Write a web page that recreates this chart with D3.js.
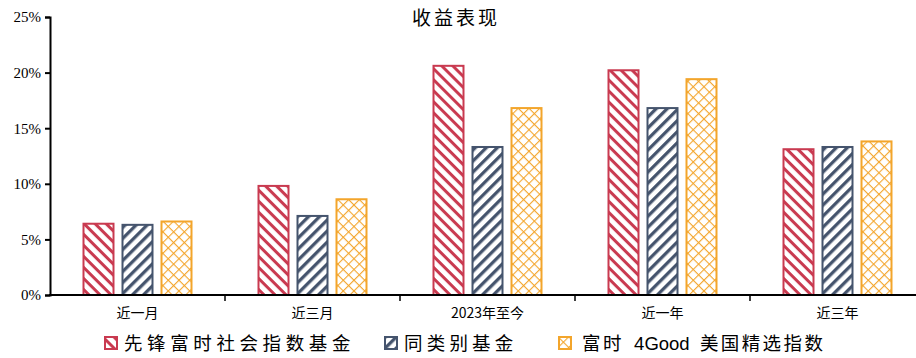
<!DOCTYPE html>
<html>
<head>
<meta charset="utf-8">
<script src="https://cdn.jsdelivr.net/npm/d3@7"></script>
<style>
  html, body { margin: 0; padding: 0; background: #fff; }
  svg { display: block; }
</style>
</head>
<body>
<svg id="chart" width="916" height="358"></svg>
<script>
// Return figures (%) per period and series
const categories = ["近一月", "近三月", "2023年至今", "近一年", "近三年"];
const seriesNames = ["先锋富时社会指数基金", "同类别基金", "富时 4Good 美国精选指数"];
const fundValues = [6.5, 9.9, 20.7, 20.3, 13.2];
const peerValues = [6.4, 7.2, 13.4, 16.9, 13.4];
const indexValues = [6.7, 8.7, 16.9, 19.5, 13.9];
const yTicks = [0, 5, 10, 15, 20, 25];
const titleText = "收益表现";

const seriesValues = [fundValues, peerValues, indexValues];
const colors = ["#C93A50", "#45546D", "#F3A52B"];
const patternIds = ["pat-fund", "pat-peer", "pat-index"];
const cjk = "'Noto Sans CJK SC', sans-serif";

const svg = d3.select("#chart");
const margin = { left: 50, top: 17, bottom: 295, right: 925 };

const x0 = d3.scaleBand().domain(categories).range([margin.left, margin.right]).padding(0);
const x1 = d3.scaleBand().domain(d3.range(seriesNames.length))
  .range([32.5, x0.bandwidth() - 32.5]).paddingInner(7 / 39).paddingOuter(0);
const y = d3.scaleLinear().domain([0, 25]).range([margin.bottom, margin.top]);

// Fill patterns: two opposite diagonal stripes and a diamond lattice
const defs = svg.append("defs");
function stripes(id, color, angle, period, thick) {
  const p = defs.append("pattern").attr("id", id)
    .attr("patternUnits", "userSpaceOnUse")
    .attr("width", period).attr("height", period)
    .attr("patternTransform", `rotate(${angle})`);
  p.append("rect").attr("width", period).attr("height", period).attr("fill", "#fff");
  p.append("rect").attr("y", 0).attr("width", period).attr("height", thick).attr("fill", color);
}
stripes(patternIds[0], colors[0], 45, 7.8, 3);
stripes(patternIds[1], colors[1], -45, 7.8, 3.3);
(function lattice(id, color, period) {
  const p = defs.append("pattern").attr("id", id)
    .attr("patternUnits", "userSpaceOnUse")
    .attr("width", period).attr("height", period)
    .attr("patternTransform", "rotate(45)");
  p.append("rect").attr("width", period).attr("height", period).attr("fill", "#fff");
  p.append("rect").attr("width", period).attr("height", 1.1).attr("fill", color);
  p.append("rect").attr("width", 1.1).attr("height", period).attr("fill", color);
})(patternIds[2], colors[2], 7.6);

// Title
svg.append("text")
  .attr("x", 456).attr("y", 25)
  .attr("text-anchor", "middle")
  .attr("font-family", cjk)
  .attr("font-size", 19)
  .attr("letter-spacing", 3)
  .attr("fill", "#000")
  .text(titleText);

// Bars
const groups = svg.append("g").selectAll("g")
  .data(categories)
  .join("g")
  .attr("transform", d => `translate(${x0(d)},0)`);

groups.selectAll("rect")
  .data((d, i) => seriesValues.map((vals, s) => ({ s, v: vals[i] })))
  .join("rect")
  .attr("x", d => x1(d.s) + 1)
  .attr("y", d => y(d.v) + 1)
  .attr("width", x1.bandwidth() - 2)
  .attr("height", d => y(0) - y(d.v) - 1)
  .attr("fill", d => `url(#${patternIds[d.s]})`)
  .attr("stroke", d => colors[d.s])
  .attr("stroke-width", 2);

// Y axis
const yAxis = d3.axisLeft(y).tickValues(yTicks).tickSize(5).tickPadding(4)
  .tickFormat(d => d + "%");
const gy = svg.append("g").attr("transform", `translate(${margin.left},0)`).call(yAxis);
gy.select(".domain").attr("stroke", "#000").attr("stroke-width", 2);
gy.selectAll(".tick line").attr("stroke", "#000").attr("stroke-width", 2);
gy.selectAll(".tick text")
  .attr("font-family", "'Liberation Serif', 'Times New Roman', serif")
  .attr("font-size", 15).attr("fill", "#000");

// X axis with ticks on the category boundaries
const bx = svg.append("g").attr("transform", `translate(0,${margin.bottom})`);
bx.append("line").attr("x1", margin.left - 1).attr("x2", margin.right)
  .attr("stroke", "#000").attr("stroke-width", 2);
bx.selectAll("line.tk")
  .data(categories.slice(1))
  .join("line").attr("class", "tk")
  .attr("x1", d => x0(d)).attr("x2", d => x0(d))
  .attr("y1", 0).attr("y2", 6)
  .attr("stroke", "#000").attr("stroke-width", 1.5);
bx.selectAll("text")
  .data(categories)
  .join("text")
  .attr("x", d => x0(d) + x0.bandwidth() / 2)
  .attr("y", 23)
  .attr("text-anchor", "middle")
  .attr("font-family", cjk)
  .attr("font-size", 14)
  .attr("fill", "#000")
  .text(d => d);

// Legend
const legendX = [104, 384, 558];
const legendSpacing = [4.6, 4.2, 2.4];
const lg = svg.append("g").selectAll("g")
  .data(seriesNames)
  .join("g")
  .attr("transform", (d, i) => `translate(${legendX[i]},336)`);
lg.append("rect")
  .attr("x", 1).attr("y", 1).attr("width", 12).attr("height", 12)
  .attr("fill", (d, i) => `url(#${patternIds[i]})`)
  .attr("stroke", (d, i) => colors[i]).attr("stroke-width", 2);
const lt = lg.append("text")
  .attr("x", (d, i) => i === 2 ? 24 : 20).attr("y", 14)
  .attr("font-family", cjk)
  .attr("font-size", 18.5)
  .attr("fill", "#000");
// Latin runs inside a label keep normal spacing
lt.each(function (d, i) {
  const t = d3.select(this);
  d.split(/( ?[A-Za-z0-9]+ ?)/).filter(s => s.length).forEach(part => {
    const latin = /[A-Za-z0-9]/.test(part);
    t.append("tspan")
      .attr("letter-spacing", latin ? 0 : legendSpacing[i])
      .attr("font-family", latin ? "'Liberation Sans', Arial, sans-serif" : cjk)
      .style("white-space", "pre")
      .text(latin ? "\u00a0\u00a0" + part.trim() + "\u00a0\u00a0" : part);
  });
});
</script>
</body>
</html>
